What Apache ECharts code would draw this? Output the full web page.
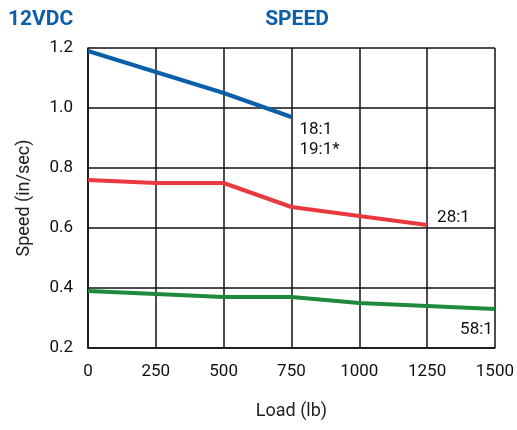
<!DOCTYPE html>
<html>
<head>
<meta charset="utf-8">
<script src="https://cdn.jsdelivr.net/npm/echarts@6/dist/echarts.min.js"></script>
<style>
  html, body { margin: 0; padding: 0; background: #fff; }
  #main { width: 517px; height: 430px; }
</style>
</head>
<body>
<div id="main"></div>
<script>
// load in lb
var loads = [0, 250, 500, 750, 1000, 1250, 1500];
// speed in in/sec
var speed18 = [1.19, 1.12, 1.05, 0.97];
var speed28 = [0.76, 0.75, 0.75, 0.67, 0.64, 0.61];
var speed58 = [0.39, 0.38, 0.37, 0.37, 0.35, 0.34, 0.33];
var yTicks = [0.2, 0.4, 0.6, 0.8, 1.0, 1.2];

var pairs = function (vals) {
  return vals.map(function (v, i) { return [loads[i], v]; });
};

var font = 'Roboto, "Liberation Sans", sans-serif';
var chart = echarts.init(document.getElementById('main'));

chart.setOption({
  animation: false,
  textStyle: { fontFamily: font },
  title: [
    { text: '12VDC', left: 3, top: 4,
      textStyle: { color: '#0b5ea8', fontSize: 21, fontWeight: 'bold', fontFamily: font } },
    { text: 'SPEED', left: 292, top: 4, textAlign: 'center',
      textStyle: { color: '#0b5ea8', fontSize: 21, fontWeight: 'bold', fontFamily: font } }
  ],
  grid: { left: 88, right: 22, top: 48, bottom: 82 },
  xAxis: {
    type: 'value', min: 0, max: 1500, interval: 250,
    name: 'Load (lb)', nameLocation: 'middle', nameGap: 54,
    nameTextStyle: { fontSize: 18, color: '#222' },
    axisLine: { show: true, lineStyle: { color: '#111', width: 1.5 } },
    axisTick: { show: false },
    axisLabel: { fontSize: 17, color: '#111', margin: 15,
      formatter: function (v) { return String(v); } },
    splitLine: { lineStyle: { color: '#111', width: 1.5 } }
  },
  yAxis: {
    type: 'value', min: yTicks[0], max: yTicks[yTicks.length - 1], interval: 0.2,
    name: 'Speed (in/sec)', nameLocation: 'middle', nameGap: 55,
    nameTextStyle: { fontSize: 18, color: '#222' },
    axisLine: { show: true, lineStyle: { color: '#111', width: 1.5 } },
    axisTick: { show: false },
    axisLabel: { fontSize: 17, color: '#111', margin: 15,
      formatter: function (v) { return v.toFixed(1); } },
    splitLine: { lineStyle: { color: '#111', width: 1.5 } }
  },
  series: [
    {
      type: 'line', data: pairs(speed18), symbol: 'none',
      lineStyle: { color: '#0a5fa9', width: 4 },
      endLabel: { show: true, formatter: '18:1\n19:1*', fontSize: 17, color: '#111',
        lineHeight: 20, align: 'left', verticalAlign: 'top', offset: [0, 3] }
    },
    {
      type: 'line', data: pairs(speed28), symbol: 'none',
      lineStyle: { color: '#e8393f', width: 4 },
      endLabel: { show: true, formatter: '28:1', fontSize: 17, color: '#111',
        align: 'left', verticalAlign: 'middle', offset: [2, -7] }
    },
    {
      type: 'line', data: pairs(speed58), symbol: 'none',
      lineStyle: { color: '#1f8a3b', width: 4 },
      endLabel: { show: true, formatter: '58:1', fontSize: 17, color: '#111',
        align: 'right', verticalAlign: 'middle', offset: [-10, 21] }
    }
  ]
});
</script>
</body>
</html>
